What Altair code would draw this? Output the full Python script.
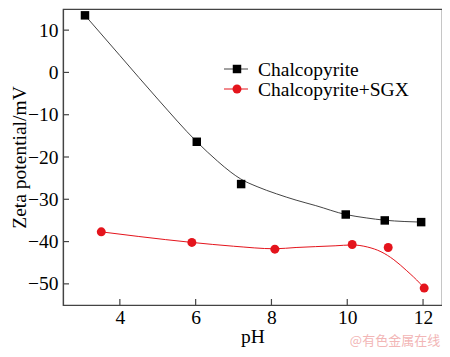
import altair as alt
import pandas as pd

# measured points
ph_chalco = [3.08, 6.03, 7.20, 9.96, 10.99, 11.95]
zeta_chalco = [13.5, -16.4, -26.4, -33.6, -35.0, -35.4]
ph_sgx = [3.51, 5.90, 8.09, 10.13, 11.08, 12.03]
zeta_sgx = [-37.7, -40.2, -41.8, -40.7, -41.4, -51.0]

# fitted curves
curve_ph_chalco = [3.08, 4.0, 5.0, 6.03, 6.58, 6.93, 7.19, 7.62, 8.13, 8.65, 9.17, 9.96, 10.5, 10.99, 11.5, 11.95]
curve_zeta_chalco = [13.5, 4.0, -6.3, -16.4, -21.0, -23.6, -25.2, -27.0, -28.7, -30.2, -31.5, -33.6, -34.4, -34.95, -35.25, -35.4]
curve_ph_sgx = [3.51, 4.5, 5.90, 7.0, 8.09, 8.65, 9.68, 10.13, 10.54, 10.89, 11.23, 11.57, 11.92, 12.03]
curve_zeta_sgx = [-37.7, -38.8, -40.2, -41.1, -41.7, -41.4, -41.0, -40.8, -41.3, -42.4, -44.3, -46.9, -49.9, -51.0]

series = ["Chalcopyrite", "Chalcopyrite+SGX"]
colors = ["#000000", "#e4141c"]
line_colors = ["#444444", "#e4141c"]
x_ticks = [4, 6, 8, 10, 12]
y_ticks = [-50, -40, -30, -20, -10, 0, 10]
x_domain = [2.5, 12.5]
y_domain = [-55, 15]
watermark = ["@有色金属在线"]

PAD_L, PAD_T, PAD_R, PAD_B = 55, 1, 0, 44
W, H = 379, 296
FONT = "Liberation Serif"
FS = 19.5

pts_c = pd.DataFrame({"ph": ph_chalco, "zeta": zeta_chalco})
pts_s = pd.DataFrame({"ph": ph_sgx, "zeta": zeta_sgx})
curves = pd.concat([
    pd.DataFrame({"ph": curve_ph_chalco, "zeta": curve_zeta_chalco, "series": series[0]}),
    pd.DataFrame({"ph": curve_ph_sgx, "zeta": curve_zeta_sgx, "series": series[1]}),
])
xt = pd.DataFrame({"ph": x_ticks})
yt = pd.DataFrame({"zeta": y_ticks})
wm = pd.DataFrame({"label": watermark})

xaxis = alt.Axis(values=x_ticks, ticks=False, grid=False, domainColor="#444", domainWidth=1.2,
                 labelFont=FONT, labelFontSize=FS, labelColor="black", labelPadding=3,
                 titleFont=FONT, titleFontSize=FS, titleFontWeight="normal", titleColor="black",
                 titlePadding=1)
yaxis = alt.Axis(values=y_ticks, ticks=False, grid=False, domainColor="#444", domainWidth=1.2,
                 labelFont=FONT, labelFontSize=FS, labelColor="black", labelPadding=5,
                 titleFont=FONT, titleFontSize=FS, titleFontWeight="normal", titleColor="black",
                 titlePadding=-2)
xs = alt.Scale(domain=x_domain, nice=False, zero=False)
ys = alt.Scale(domain=y_domain, nice=False, zero=False)


def X():
    return alt.X("ph:Q", scale=xs, axis=xaxis, title="pH")


def Y():
    return alt.Y("zeta:Q", scale=ys, axis=yaxis, title="Zeta potential/mV")


lines = alt.Chart(curves).mark_line(interpolate="monotone", strokeWidth=1).encode(
    x=X(), y=Y(),
    color=alt.Color("series:N", scale=alt.Scale(domain=series, range=line_colors), legend=None),
)
sq = alt.Chart(pts_c).mark_square(size=72, color=colors[0], opacity=1).encode(x=X(), y=Y())
ci = alt.Chart(pts_s).mark_circle(size=80, color=colors[1], opacity=1).encode(x=X(), y=Y())

xtick = alt.Chart(xt).mark_rule(color="#444", strokeWidth=1.2).encode(
    x=X(), y=alt.value(H), y2=alt.value(H - 6))
ytick = alt.Chart(yt).mark_rule(color="#444", strokeWidth=1.2).encode(
    y=Y(), x=alt.value(0), x2=alt.value(6))

# legend (drawn as marks)
legend_layers = []
row_y = [60, 80]
for i, name in enumerate(series):
    d = pd.DataFrame({"label": [name]})
    base = alt.Chart(d)
    legend_layers.append(base.mark_rule(color=line_colors[i], strokeWidth=1).encode(
        x=alt.value(161), x2=alt.value(185), y=alt.value(row_y[i])))
    if i == 0:
        legend_layers.append(base.mark_square(size=72, color=colors[i], opacity=1).encode(
            x=alt.value(174), y=alt.value(row_y[i])))
    else:
        legend_layers.append(base.mark_circle(size=80, color=colors[i], opacity=1).encode(
            x=alt.value(174), y=alt.value(row_y[i])))
    legend_layers.append(base.mark_text(font=FONT, fontSize=FS, color="black", align="left",
                                        baseline="middle").encode(
        text="label:N", x=alt.value(195), y=alt.value(row_y[i] + 1)))

wm_layer = alt.Chart(wm).mark_text(font="Noto Sans CJK SC", fontSize=13, color="#f2b6b6",
                                   align="center", baseline="middle").encode(
    text="label:N", x=alt.value(332), y=alt.value(332))

chart = alt.layer(lines, sq, ci, xtick, ytick, *legend_layers, wm_layer).properties(
    width=W, height=H,
    padding={"left": PAD_L, "top": PAD_T, "right": PAD_R, "bottom": PAD_B},
    autosize=alt.AutoSizeParams(type="none"),
).configure_view(stroke="#444", strokeWidth=1.2)

chart.save("out.html", embed_options={"renderer": "svg", "actions": False})
